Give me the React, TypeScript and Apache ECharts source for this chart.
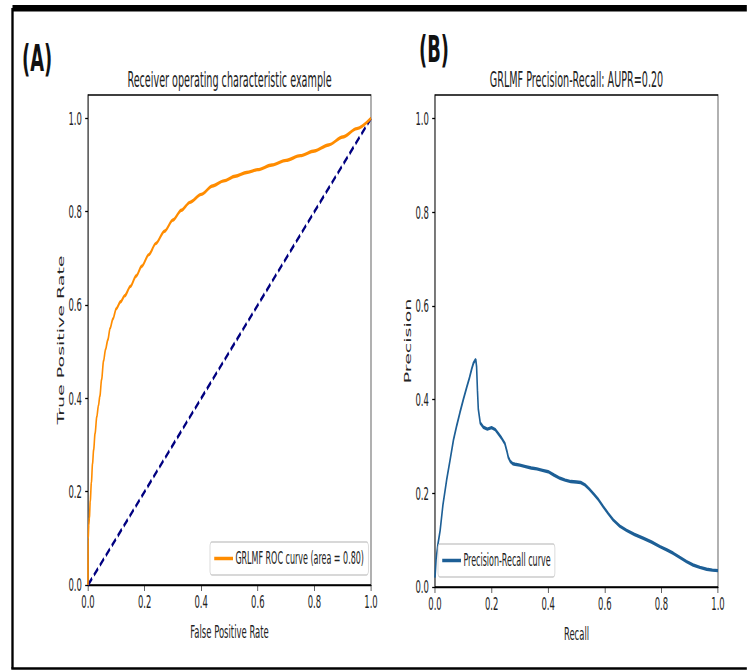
import React, { useEffect, useRef } from "react";
import * as echarts from "echarts";

// The reference is a horizontally squashed figure: draw it wide, then squash.
const K = 0.47;
const W = 747 / K;
const H = 671;
const sx = (v: number) => v / K;

const FONT = "DejaVu Sans";
const TEXT = "#222";

const titleA = "Receiver operating characteristic example";
const titleB = "GRLMF Precision-Recall: AUPR=0.20";
const rocName = "GRLMF ROC curve (area = 0.80)";
const prName = "Precision-Recall curve";

const xTicks = [0, 0.2, 0.4, 0.6, 0.8, 1.0];
const yTicks = [0, 0.2, 0.4, 0.6, 0.8, 1.0];

const rocFpr = [0, 0.0005, 0.003, 0.005, 0.008, 0.012, 0.016, 0.02, 0.025, 0.031, 0.037, 0.042, 0.048, 0.055, 0.062, 0.07, 0.078, 0.088, 0.1, 0.115, 0.13, 0.15, 0.17, 0.19, 0.215, 0.24, 0.27, 0.3, 0.33, 0.36, 0.4, 0.44, 0.48, 0.52, 0.56, 0.6, 0.65, 0.7, 0.75, 0.8, 0.85, 0.9, 0.95, 1.0];
const rocTpr = [0, 0.1, 0.13, 0.145, 0.18, 0.22, 0.26, 0.29, 0.325, 0.36, 0.385, 0.405, 0.44, 0.48, 0.505, 0.525, 0.55, 0.57, 0.592, 0.607, 0.62, 0.64, 0.662, 0.683, 0.708, 0.732, 0.758, 0.782, 0.803, 0.82, 0.837, 0.855, 0.866, 0.876, 0.884, 0.89, 0.9, 0.91, 0.92, 0.93, 0.943, 0.96, 0.978, 1.0];

const chanceX = [0, 1];
const chanceY = [0, 1];

const prRecall = [0, 0.004, 0.01, 0.018, 0.028, 0.041, 0.053, 0.065, 0.077, 0.088, 0.1, 0.112, 0.122, 0.13, 0.136, 0.141, 0.144, 0.147, 0.15, 0.153, 0.16, 0.171, 0.185, 0.2, 0.213, 0.224, 0.235, 0.247, 0.254, 0.259, 0.266, 0.275, 0.283, 0.3, 0.32, 0.34, 0.36, 0.38, 0.4, 0.42, 0.442, 0.46, 0.48, 0.5, 0.515, 0.53, 0.545, 0.56, 0.578, 0.595, 0.613, 0.63, 0.653, 0.677, 0.705, 0.736, 0.765, 0.795, 0.82, 0.842, 0.865, 0.889, 0.912, 0.936, 0.96, 0.98, 1.0];
const prPrecision = [0.02, 0.06, 0.09, 0.12, 0.175, 0.228, 0.27, 0.313, 0.345, 0.372, 0.4, 0.426, 0.447, 0.466, 0.478, 0.483, 0.486, 0.47, 0.42, 0.38, 0.35, 0.341, 0.337, 0.34, 0.336, 0.327, 0.318, 0.306, 0.29, 0.277, 0.268, 0.263, 0.262, 0.26, 0.257, 0.254, 0.252, 0.249, 0.246, 0.239, 0.232, 0.228, 0.225, 0.224, 0.223, 0.218, 0.209, 0.199, 0.186, 0.171, 0.156, 0.143, 0.13, 0.121, 0.112, 0.104, 0.096, 0.086, 0.079, 0.072, 0.063, 0.054, 0.047, 0.042, 0.038, 0.036, 0.035];

const zip = (a: number[], b: number[]) => a.map((v, i) => [v, b[i]]);

function xAxisCfg(gridIndex: number, name: string) {
  return {
    type: "value",
    gridIndex,
    min: 0,
    max: 1,
    name,
    nameLocation: "middle",
    nameGap: 38,
    nameTextStyle: { fontSize: 18, color: TEXT, fontFamily: FONT },
    axisLine: { show: true, lineStyle: { color: "#000", width: 1.3 } },
    axisTick: { show: true, length: 6, inside: false, customValues: xTicks, lineStyle: { color: "#000", width: 1.3 } },
    axisLabel: {
      show: true,
      customValues: xTicks,
      margin: 8,
      fontSize: 18,
      color: TEXT,
      fontFamily: FONT,
      formatter: (v: number) => v.toFixed(1),
    },
    splitLine: { show: false },
  };
}

function yAxisCfg(gridIndex: number, name: string) {
  return {
    type: "value",
    gridIndex,
    min: 0,
    max: 1.05,
    name,
    nameLocation: "middle",
    nameRotate: 90,
    nameGap: 48,
    nameTextStyle: { fontSize: 19, color: TEXT, fontFamily: FONT },
    axisLine: { show: true, lineStyle: { color: "#000", width: 1.3 } },
    axisTick: { show: true, length: 6, inside: false, customValues: yTicks, lineStyle: { color: "#000", width: 1.3 } },
    axisLabel: {
      show: true,
      customValues: yTicks,
      margin: 13,
      fontSize: 18,
      color: TEXT,
      fontFamily: FONT,
      formatter: (v: number) => v.toFixed(1),
    },
    splitLine: { show: false },
  };
}

function legendCfg(name: string, left: number, top: number) {
  return {
    data: [{ name, icon: "rect" }],
    left,
    top,
    orient: "horizontal",
    itemWidth: 40,
    itemHeight: 3.5,
    itemGap: 0,
    padding: [8, 9],
    backgroundColor: "rgba(255,255,255,0.85)",
    borderColor: "#cccccc",
    borderWidth: 1.5,
    borderRadius: 4,
    selectedMode: false,
    textStyle: { fontSize: 17, color: TEXT, fontFamily: FONT },
  };
}

export default function App() {
  const ref = useRef<HTMLDivElement>(null);

  useEffect(() => {
    if (!ref.current) return;
    const chart = echarts.init(ref.current, undefined, { renderer: "svg", width: W, height: H });
    const gridAL = sx(88);
    const gridBL = sx(435);
    const gridW = sx(283);

    chart.setOption({
      animation: false,
      backgroundColor: "#fff",
      grid: [
        { left: gridAL, top: 95, width: gridW, height: 490, show: true, borderColor: "#000", borderWidth: 1.3, containLabel: false },
        { left: gridBL, top: 95, width: gridW, height: 492, show: true, borderColor: "#000", borderWidth: 1.3, containLabel: false },
      ],
      xAxis: [xAxisCfg(0, "False Positive Rate"), xAxisCfg(1, "Recall")],
      yAxis: [yAxisCfg(0, "True Positive Rate"), yAxisCfg(1, "Precision")],
      legend: [legendCfg(rocName, sx(210), 542), legendCfg(prName, sx(438), 544)],
      series: [
        {
          name: rocName,
          type: "line",
          xAxisIndex: 0,
          yAxisIndex: 0,
          data: zip(rocFpr, rocTpr),
          symbol: "none",
          smooth: 0.3,
          smoothMonotone: "x",
          lineStyle: { color: "#ff8c00", width: 3.4 },
          itemStyle: { color: "#ff8c00" },
          z: 3,
        },
        {
          name: "chance",
          type: "line",
          xAxisIndex: 0,
          yAxisIndex: 0,
          data: zip(chanceX, chanceY),
          symbol: "none",
          lineStyle: { color: "#000080", width: 3.6, type: [11, 5] },
          itemStyle: { color: "#000080" },
          z: 2,
        },
        {
          name: prName,
          type: "line",
          xAxisIndex: 1,
          yAxisIndex: 1,
          data: zip(prRecall, prPrecision),
          symbol: "none",
          lineStyle: { color: "#1d5f96", width: 3.4 },
          itemStyle: { color: "#1d5f96" },
          z: 3,
        },
      ],
      graphic: [
        { type: "line", shape: { x1: sx(12.5), y1: 8.3, x2: W + 20, y2: 8.3 }, style: { stroke: "#000", lineWidth: 6.5 } },
        { type: "line", shape: { x1: sx(12.5), y1: 8, x2: sx(12.5), y2: 668.5 }, style: { stroke: "#000", lineWidth: 5 } },
        { type: "line", shape: { x1: sx(11.3), y1: 668.5, x2: W + 20, y2: 668.5 }, style: { stroke: "#000", lineWidth: 2.4 } },
        { type: "text", x: sx(22), y: 58, style: { text: "(A)", fontSize: 38, fontWeight: "bold", fontFamily: FONT, fill: "#111", textAlign: "left", textVerticalAlign: "middle" } },
        { type: "text", x: sx(419), y: 49, style: { text: "(B)", fontSize: 38, fontWeight: "bold", fontFamily: FONT, fill: "#111", textAlign: "left", textVerticalAlign: "middle" } },
        { type: "text", x: gridAL + gridW / 2, y: 79.5, style: { text: titleA, fontSize: 20.5, fontFamily: FONT, fill: TEXT, textAlign: "center", textVerticalAlign: "middle" } },
        { type: "text", x: gridBL + gridW / 2, y: 79.5, style: { text: titleB, fontSize: 20.5, fontFamily: FONT, fill: TEXT, textAlign: "center", textVerticalAlign: "middle" } },
      ],
    });
    return () => chart.dispose();
  }, []);

  return (
    <div style={{ position: "fixed", left: 0, top: 0, width: 747, height: H, overflow: "hidden", background: "#fff" }}>
      <div
        ref={ref}
        style={{ width: W, height: H, transform: `scaleX(${K})`, transformOrigin: "0 0" }}
      />
    </div>
  );
}
